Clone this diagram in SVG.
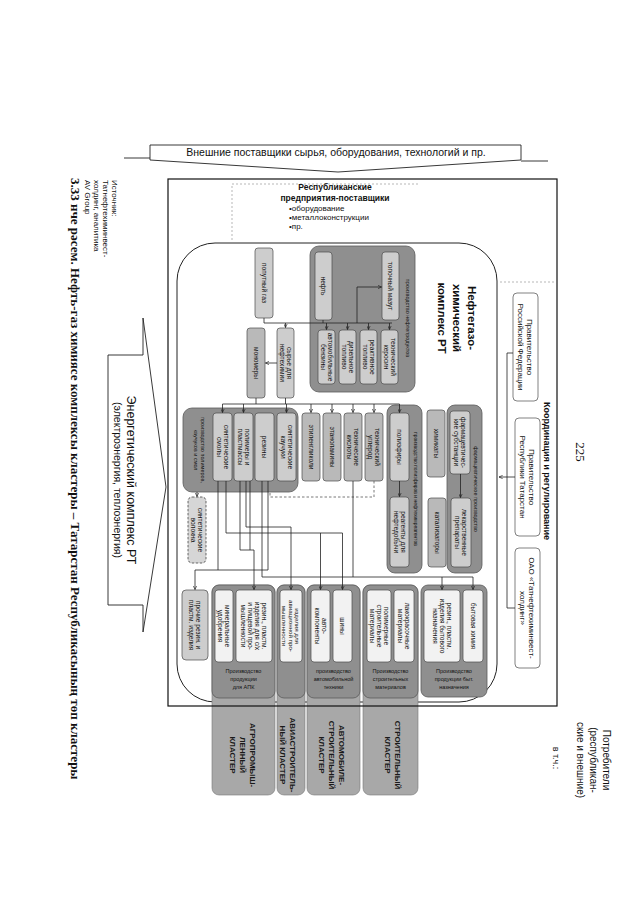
<svg xmlns="http://www.w3.org/2000/svg" width="640" height="905" viewBox="0 0 640 905">
<style>
.bx{stroke:#4a4a4a;stroke-width:0.7}
.lt{fill:#cdcdcd}
.md{fill:#b9b9b9}
.wt{fill:#f2f2f2}
.gp{fill:#8f8f8f;stroke:#5a5a5a;stroke-width:0.8}
.bd{fill:#a8a8a8;stroke:#777;stroke-width:0.6}
.t{font-family:"Liberation Sans",Arial,sans-serif;fill:#111}
.t6{font-size:6.6px;text-anchor:middle}
.gl{font-size:5.5px;text-anchor:middle}
.cl{font-size:8px;font-weight:bold;text-anchor:middle;fill:#1a1a1a}
.cn path{fill:none;stroke:#222;stroke-width:0.8}
.dash{fill:none;stroke:#999;stroke-width:0.7;stroke-dasharray:2 2}
</style>
<defs>
<marker id="ah" viewBox="0 0 8 8" refX="7.5" refY="4" markerWidth="5" markerHeight="5" orient="auto"><path d="M0,0.5 L7.5,4 L0,7.5" fill="none" stroke="#222" stroke-width="1.3"/></marker>
</defs>
<rect width="640" height="905" fill="#fff"/>

<!-- external suppliers banner -->
<g id="banner">
<polygon points="150,145 521,145 521,160 338,172 150,160" fill="#fff" stroke="#222" stroke-width="0.9"/>
<line x1="124" y1="158" x2="150" y2="158" stroke="#222" stroke-width="0.9"/>
<line x1="521" y1="161" x2="548" y2="161" stroke="#222" stroke-width="0.9"/>
<text class="t" x="336" y="156" font-size="10.5" text-anchor="middle">Внешние поставщики сырья, оборудования, технологий и пр.</text>
</g>

<!-- inner complex -->
<g id="complex">
<rect x="177" y="243" width="320" height="459" rx="38" fill="#fff" stroke="#222" stroke-width="1"/>
<text class="t" font-size="11.5" font-weight="bold" text-anchor="middle" transform="translate(457,318) rotate(90)"><tspan x="0" y="-11">Нефтегазо-</tspan><tspan x="0" y="4">химический</tspan><tspan x="0" y="19">комплекс РТ</tspan></text>
</g>

<!-- suppliers -->
<g id="suppliers">
<path class="dash" d="M232,240 V184 H420"/>
<path class="dash" d="M500,282 H555"/>
<text class="t" x="335" y="190" font-size="8.5" font-weight="bold" text-anchor="middle">Республиканские</text>
<text class="t" x="335" y="201" font-size="8.5" font-weight="bold" text-anchor="middle">предприятия-поставщики</text>
<text class="t" x="289" y="211" font-size="8">•оборудование</text>
<text class="t" x="289" y="220" font-size="8">•металлоконструкции</text>
<text class="t" x="289" y="229" font-size="8">•пр.</text>
</g>

<!-- coordination -->
<g id="coordination">
<text class="t" font-size="9" font-weight="bold" text-anchor="middle" transform="translate(547,471) rotate(90)" y="3.1">Координация и регулирование</text>
</g>
<g id="n-gov-rf">
<rect x="513" y="293" width="25" height="108" rx="4" fill="#fff" class="bx"/>
<text class="t" font-size="8" text-anchor="middle" transform="translate(525.5,347) rotate(90)"><tspan x="0" y="-1.7">Правительство</tspan><tspan x="0" y="7.3">Российской Федерации</tspan></text>
</g>
<g id="n-gov-rt">
<rect x="515" y="418" width="25" height="118" rx="4" fill="#fff" class="bx"/>
<text class="t" font-size="8" text-anchor="middle" transform="translate(527.5,477) rotate(90)"><tspan x="0" y="-1.7">Правительство</tspan><tspan x="0" y="7.3">Республики Татарстан</tspan></text>
</g>
<g id="n-tnhi">
<rect x="515" y="548" width="25" height="120" rx="4" fill="#fff" class="bx"/>
<text class="t" font-size="8" text-anchor="middle" transform="translate(527.5,608) rotate(90)"><tspan x="0" y="-1.7">ОАО «Татнефтехиминвест-</tspan><tspan x="0" y="7.3">холдинг»</tspan></text>
</g>

<!-- refinery group -->
<g id="g-refinery">
<rect class="gp" x="310" y="246" width="105" height="146" rx="9"/>
<text class="t gl" transform="translate(408,318) rotate(90)" y="1.9">производство нефтепродуктов</text>
</g>
<g id="n-popgas"><rect class="lt bx" x="255" y="248" width="18" height="70" rx="3"/><text class="t t6" transform="translate(264,283) rotate(90)" y="2.3">попутный газ</text></g>
<g id="n-neft"><rect class="lt bx" x="315" y="252" width="17" height="68" rx="3"/><text class="t t6" transform="translate(323.5,286) rotate(90)" y="2.3">нефть</text></g>
<g id="n-mazut"><rect class="lt bx" x="382" y="252" width="17" height="68" rx="3"/><text class="t t6" transform="translate(390.5,286) rotate(90)" y="2.3">топочный мазут</text></g>
<g id="n-benz"><rect class="lt bx" x="318" y="330" width="17" height="54" rx="3"/><text class="t t6" transform="translate(326.5,357) rotate(90)"><tspan x="0" y="-1.2">автомобильные</tspan><tspan x="0" y="5.8">бензины</tspan></text></g>
<g id="n-diesel"><rect class="lt bx" x="339" y="330" width="17" height="54" rx="3"/><text class="t t6" transform="translate(347.5,357) rotate(90)"><tspan x="0" y="-1.2">дизельное</tspan><tspan x="0" y="5.8">топливо</tspan></text></g>
<g id="n-jet"><rect class="lt bx" x="360" y="330" width="17" height="54" rx="3"/><text class="t t6" transform="translate(368.5,357) rotate(90)"><tspan x="0" y="-1.2">реактивное</tspan><tspan x="0" y="5.8">топливо</tspan></text></g>
<g id="n-kero"><rect class="lt bx" x="381" y="330" width="17" height="54" rx="3"/><text class="t t6" transform="translate(389.5,357) rotate(90)"><tspan x="0" y="-1.2">технический</tspan><tspan x="0" y="5.8">керосин</tspan></text></g>
<g id="n-feed"><rect class="lt bx" x="277" y="328" width="17" height="70" rx="3"/><text class="t t6" transform="translate(285.5,363) rotate(90)"><tspan x="0" y="-1.2">сырье для</tspan><tspan x="0" y="5.8">нефтехимии</tspan></text></g>
<g id="n-mono"><rect class="md bx" x="247" y="328" width="18" height="70" rx="3"/><text class="t t6" transform="translate(256,363) rotate(90)" y="2.3">мономеры</text></g>

<!-- polymer group -->
<g id="g-polymer">
<rect class="gp" x="183" y="408" width="115" height="84" rx="9"/>
<text class="t gl" transform="translate(199,450) rotate(90)"><tspan x="0" y="-1.6">производство полимеров,</tspan><tspan x="0" y="5.4">каучуков и смол</tspan></text>
</g>
<g id="n-resins"><rect class="lt bx" x="213" y="413" width="19" height="68" rx="3"/><text class="t t6" transform="translate(222.5,447) rotate(90)"><tspan x="0" y="-1.2">синтетические</tspan><tspan x="0" y="5.8">смолы</tspan></text></g>
<g id="n-polymers"><rect class="lt bx" x="234" y="413" width="19" height="68" rx="3"/><text class="t t6" transform="translate(243.5,447) rotate(90)"><tspan x="0" y="-1.2">полимеры и</tspan><tspan x="0" y="5.8">пластмассы</tspan></text></g>
<g id="n-rubber"><rect class="lt bx" x="255" y="413" width="19" height="68" rx="3"/><text class="t t6" transform="translate(264.5,447) rotate(90)" y="2.3">резины</text></g>
<g id="n-synrub"><rect class="lt bx" x="277" y="413" width="19" height="68" rx="3"/><text class="t t6" transform="translate(286.5,447) rotate(90)"><tspan x="0" y="-1.2">синтетические</tspan><tspan x="0" y="5.8">каучуки</tspan></text></g>
<g id="n-glycol"><rect class="md bx" x="302" y="413" width="18" height="68" rx="3"/><text class="t t6" transform="translate(311,447) rotate(90)" y="2.3">этиленгликоли</text></g>
<g id="n-ethanol"><rect class="md bx" x="323" y="413" width="18" height="68" rx="3"/><text class="t t6" transform="translate(332,447) rotate(90)" y="2.3">этаноламины</text></g>
<g id="n-acids"><rect class="md bx" x="344" y="413" width="18" height="68" rx="3"/><text class="t t6" transform="translate(353,447) rotate(90)"><tspan x="0" y="-1.2">технические</tspan><tspan x="0" y="5.8">кислоты</tspan></text></g>
<g id="n-carbon"><rect class="md bx" x="365" y="413" width="18" height="68" rx="3"/><text class="t t6" transform="translate(374,447) rotate(90)"><tspan x="0" y="-1.2">технический</tspan><tspan x="0" y="5.8">углерод</tspan></text></g>

<!-- polyester / reagents group -->
<g id="g-polyester">
<rect class="gp" x="387" y="405" width="35" height="168" rx="8"/>
<text class="t" font-size="5" text-anchor="middle" transform="translate(416,489) rotate(90)" y="1.8">производство полиэфиров и нефтехимреагентов</text>
</g>
<g id="n-polyest"><rect class="lt bx" x="390" y="413" width="19" height="68" rx="3"/><text class="t t6" transform="translate(399.5,447) rotate(90)" y="2.3">полиэфиры</text></g>
<g id="n-reag"><rect class="lt bx" x="390" y="497" width="19" height="70" rx="3"/><text class="t t6" transform="translate(399.5,532) rotate(90)"><tspan x="0" y="-1.2">реагенты для</tspan><tspan x="0" y="5.8">нефтедобычи</tspan></text></g>
<g id="n-chem"><rect class="md bx" x="427" y="410" width="18" height="67" rx="3"/><text class="t t6" transform="translate(436,443.5) rotate(90)" y="2.3">химикаты</text></g>
<g id="n-catal"><rect class="md bx" x="428" y="498" width="18" height="69" rx="3"/><text class="t t6" transform="translate(437,532.5) rotate(90)" y="2.3">катализаторы</text></g>

<!-- pharma group -->
<g id="g-pharma">
<rect class="gp" x="447" y="405" width="35" height="168" rx="8"/>
<text class="t gl" transform="translate(476,489) rotate(90)" y="1.9">фармацевтическое производство</text>
</g>
<g id="n-subst"><rect class="lt bx" x="450" y="411" width="20" height="63" rx="3"/><text class="t t6" transform="translate(460,442.5) rotate(90)"><tspan x="0" y="-1.2">фармацевтичес-</tspan><tspan x="0" y="5.8">кие субстанции</tspan></text></g>
<g id="n-drugs"><rect class="lt bx" x="451" y="498" width="20" height="69" rx="3"/><text class="t t6" transform="translate(461,532.5) rotate(90)"><tspan x="0" y="-1.2">лекарственные</tspan><tspan x="0" y="5.8">препараты</tspan></text></g>

<g id="n-synfib"><rect x="188" y="497" width="18" height="66" rx="4" fill="#d6d6d6" stroke="#444" stroke-width="0.8" stroke-dasharray="2.5 1.5"/><text class="t t6" transform="translate(197,530) rotate(90)"><tspan x="0" y="-1.2">синтетические</tspan><tspan x="0" y="5.8">волокна</tspan></text></g>

<!-- clusters -->
<g id="n-other"><rect class="lt bx" x="182" y="590" width="26" height="70" rx="4"/><text class="t t6" transform="translate(195,625) rotate(90)"><tspan x="0" y="-1.2">прочие резин. и</tspan><tspan x="0" y="5.8">пластм. изделия</tspan></text></g>

<g id="c-agro">
<rect class="bd" x="212" y="585" width="63" height="210" rx="7"/>
<rect class="gp" x="212" y="585" width="63" height="113" rx="7"/>
<rect class="wt bx" x="215" y="590" width="18" height="72" rx="3"/>
<text class="t t6" transform="translate(224,626) rotate(90)"><tspan x="0" y="-1.2">минеральные</tspan><tspan x="0" y="5.8">удобрения</tspan></text>
<rect class="wt bx" x="236" y="590" width="36" height="72" rx="3"/>
<text class="t t6" transform="translate(254,626) rotate(90)"><tspan x="0" y="-8.2">резин., пластм.</tspan><tspan x="0" y="-1.2">изделия для с/х</tspan><tspan x="0" y="5.8">и пищевой про-</tspan><tspan x="0" y="12.8">мышленности</tspan></text>
<text class="t gl" x="243.5" y="673">Производство</text><text class="t gl" x="243.5" y="681">продукции</text><text class="t gl" x="243.5" y="689">для АПК</text>
<text class="t cl" transform="translate(243,755) rotate(90)"><tspan x="0" y="-7.2">АГРОПРОМЫШ-</tspan><tspan x="0" y="2.8">ЛЕННЫЙ</tspan><tspan x="0" y="12.8">КЛАСТЕР</tspan></text>
</g>

<g id="c-avia">
<rect class="bd" x="277" y="585" width="28" height="210" rx="7"/>
<rect class="gp" x="277" y="585" width="28" height="113" rx="7"/>
<rect class="wt bx" x="280" y="590" width="22" height="72" rx="3"/>
<text class="t" font-size="6.2" text-anchor="middle" transform="translate(291,626) rotate(90)"><tspan x="0" y="-4.4">изделия для</tspan><tspan x="0" y="2.2">авиационной про-</tspan><tspan x="0" y="8.8">мышленности</tspan></text>
<text class="t cl" transform="translate(288,755) rotate(90)"><tspan x="0" y="-2.2">АВИАСТРОИТЕЛЬ-</tspan><tspan x="0" y="7.8">НЫЙ КЛАСТЕР</tspan></text>
</g>

<g id="c-auto">
<rect class="bd" x="307" y="585" width="53" height="210" rx="7"/>
<rect class="gp" x="307" y="585" width="53" height="113" rx="7"/>
<rect class="wt bx" x="311" y="590" width="19" height="72" rx="3"/>
<text class="t t6" transform="translate(320.5,626) rotate(90)"><tspan x="0" y="-1.2">авто-</tspan><tspan x="0" y="5.8">компоненты</tspan></text>
<rect class="wt bx" x="333" y="590" width="19" height="72" rx="3"/>
<text class="t t6" transform="translate(342.5,626) rotate(90)" y="2.3">шины</text>
<text class="t gl" x="333.5" y="673">производство</text><text class="t gl" x="333.5" y="681">автомобильной</text><text class="t gl" x="333.5" y="689">техники</text>
<text class="t cl" transform="translate(332,755) rotate(90)"><tspan x="0" y="-7.2">АВТОМОБИЛЕ-</tspan><tspan x="0" y="2.8">СТРОИТЕЛЬНЫЙ</tspan><tspan x="0" y="12.8">КЛАСТЕР</tspan></text>
</g>

<g id="c-build">
<rect class="bd" x="363" y="585" width="55" height="210" rx="7"/>
<rect class="gp" x="363" y="585" width="55" height="113" rx="7"/>
<rect class="wt bx" x="367" y="590" width="24" height="72" rx="3"/>
<text class="t t6" transform="translate(379,626) rotate(90)"><tspan x="0" y="-4.7">полимерные</tspan><tspan x="0" y="2.3">строительные</tspan><tspan x="0" y="9.3">материалы</tspan></text>
<rect class="wt bx" x="394" y="590" width="20" height="72" rx="3"/>
<text class="t t6" transform="translate(404,626) rotate(90)"><tspan x="0" y="-1.2">лакокрасочные</tspan><tspan x="0" y="5.8">материалы</tspan></text>
<text class="t gl" x="390.5" y="673">Производство</text><text class="t gl" x="390.5" y="681">строительных</text><text class="t gl" x="390.5" y="689">материалов</text>
<text class="t cl" transform="translate(393,755) rotate(90)"><tspan x="0" y="-2.2">СТРОИТЕЛЬНЫЙ</tspan><tspan x="0" y="7.8">КЛАСТЕР</tspan></text>
</g>

<g id="c-household">
<rect class="gp" x="421" y="585" width="66" height="112" rx="7"/>
<rect class="wt bx" x="424" y="590" width="36" height="72" rx="3"/>
<text class="t t6" transform="translate(442,626) rotate(90)"><tspan x="0" y="-4.7">резин., пластм.</tspan><tspan x="0" y="2.3">изделия бытового</tspan><tspan x="0" y="9.3">назначения</tspan></text>
<rect class="wt bx" x="463" y="590" width="20" height="72" rx="3"/>
<text class="t t6" transform="translate(473,626) rotate(90)" y="2.3">бытовая химия</text>
<text class="t gl" x="454" y="673">Производство</text><text class="t gl" x="454" y="681">продукции быт.</text><text class="t gl" x="454" y="689">назначения</text>
</g>

<!-- outer frame -->
<g id="frame">
<rect x="168" y="179" width="389" height="527" fill="none" stroke="#111" stroke-width="1.2"/>
</g>

<!-- connectors -->
<g id="connectors" class="cn">
<path d="M513,353 H507 V477"/>
<path d="M515,608 H507 V477"/>
<path d="M515,477 H499" marker-end="url(#ah)"/>
<path d="M264,318 V323 H392"/>
<path d="M323,320 V323"/>
<path d="M285.5,323 V327.5" marker-end="url(#ah)"/>
<path d="M326.5,323 V329.5" marker-end="url(#ah)"/>
<path d="M347.5,323 V329.5" marker-end="url(#ah)"/>
<path d="M368.5,323 V329.5" marker-end="url(#ah)"/>
<path d="M389.5,323 V329.5" marker-end="url(#ah)"/>
<path d="M357,323 V287 H381.5" marker-end="url(#ah)"/>
<path d="M277,363 H265.5" marker-end="url(#ah)"/>
<path d="M256,398 V404"/>
<path d="M285.5,398 V404"/>
<path d="M222.5,404 H399.5"/>
<path d="M222.5,404 V412.5" marker-end="url(#ah)"/>
<path d="M243.5,404 V412.5" marker-end="url(#ah)"/>
<path d="M286.5,404 V412.5" marker-end="url(#ah)"/>
<path d="M311,404 V412.5" marker-end="url(#ah)"/>
<path d="M332,404 V412.5" marker-end="url(#ah)"/>
<path d="M353,404 V412.5" marker-end="url(#ah)"/>
<path d="M374,404 V412.5" marker-end="url(#ah)"/>
<path d="M399.5,404 V412.5" marker-end="url(#ah)"/>
<path d="M399.5,481 V496.5" marker-end="url(#ah)"/>
<path d="M460.5,474 V497.5" marker-end="url(#ah)"/>
<path d="M197,492 V496.5" marker-end="url(#ah)"/>
<path d="M374,481 V497 H270 V492" stroke-dasharray="2.5 2" style="stroke:#555"/>
<path d="M268,481 V570 H195 V589.5" marker-end="url(#ah)"/>
<path d="M218,481 V570"/>
<path d="M226,481 V533 H342.5 V589.5" marker-end="url(#ah)"/>
<path d="M320.5,533 V589.5" marker-end="url(#ah)"/>
<path d="M240,481 V550 H254 V589.5" marker-end="url(#ah)"/>
<path d="M250,481 V550"/>
<path d="M246,481 V527 H291 V589.5" marker-end="url(#ah)"/>
<path d="M262,481 V577 H473 V589.5" marker-end="url(#ah)"/>
<path d="M442,577 V589.5" marker-end="url(#ah)"/>
<path d="M353,481 V577"/>
</g>

<!-- energy complex -->
<g id="n-energy">
<polygon points="108,355 143,355 143,318 166,487 143,632 143,605 108,605" fill="#fff" stroke="#222" stroke-width="0.9"/>
<text class="t" font-size="12.5" text-anchor="middle" transform="translate(131,480) rotate(90)" y="4.4">Энергетический комплекс РТ</text>
<text class="t" font-size="10.5" text-anchor="middle" transform="translate(118,480) rotate(90)" y="3.7">(электроэнергия, теплоэнергия)</text>
</g>

<!-- source, caption, page number, consumers -->
<g id="source">
<text class="t" font-size="8" transform="translate(101.5,180) rotate(90)"><tspan x="0" y="-10.7">Источник:</tspan><tspan x="0" y="-1.7">Татнефтехиминвест-</tspan><tspan x="0" y="7.3">холдинг, аналитика</tspan><tspan x="0" y="16.3">AV Group</tspan></text>
</g>
<g id="caption">
<text font-family="'Liberation Serif','Times New Roman',serif" font-size="13" font-weight="bold" fill="#111" transform="translate(75,178) rotate(90)" y="4.5">3.33 нче рәсем. Нефть-газ химиясе комплексы кластеры – Татарстан Республикасының төп кластеры</text>
</g>
<g id="pagenum">
<text font-family="'Liberation Serif','Times New Roman',serif" font-size="13" fill="#111" text-anchor="middle" transform="translate(580,452) rotate(90)" y="4.5">225</text>
</g>
<g id="consumers">
<text class="t" font-size="10" text-anchor="middle" transform="translate(593,760) rotate(90)"><tspan x="0" y="-9.5">Потребители</tspan><tspan x="0" y="3.5">(республикан-</tspan><tspan x="0" y="16.5">ские и внешние)</tspan></text>
<text class="t" font-size="9" text-anchor="middle" transform="translate(556,758) rotate(90)" y="3.1">в т.ч.:</text>
</g>
</svg>
